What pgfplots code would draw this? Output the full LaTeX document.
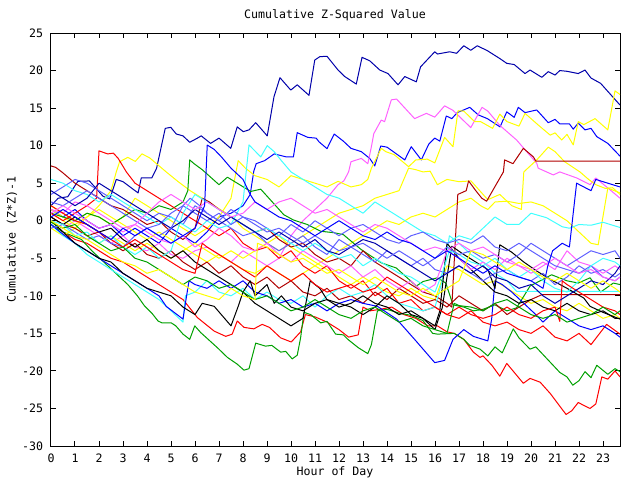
\documentclass[border=0pt]{standalone}
\usepackage{pgfplots}
\pgfplotsset{compat=1.18}
\usepackage{fontspec}
\setmainfont{DejaVu Sans Mono}
\definecolor{gred}{RGB}{255,0,0}
\definecolor{ggreen}{RGB}{0,160,0}
\definecolor{gblue}{RGB}{0,0,255}
\definecolor{gnavy}{RGB}{0,0,170}
\definecolor{gperi}{RGB}{96,96,255}
\definecolor{gpink}{RGB}{255,96,255}
\definecolor{gcyan}{RGB}{64,255,255}
\definecolor{gyellow}{RGB}{255,255,0}
\definecolor{gdred}{RGB}{176,0,0}
\begin{document}
\begin{tikzpicture}
\path[use as bounding box] (0pt,0pt) rectangle (480pt,360pt);
\begin{axis}[
  at={(38.25pt,25.5pt)}, anchor=south west,
  scale only axis, width=426.75pt, height=309.75pt,
  xmin=0, xmax=23.708, ymin=-30, ymax=25,
  xtick={0,...,23}, ytick={-30,-25,...,25},
  tick align=inside, major tick length=4pt,
  tick style={black, line width=0.75pt},
  axis line style={line width=0.75pt},
  tick label style={font=\fontsize{8.7}{10}\selectfont},
  /pgf/number format/assume math mode=true,
  xticklabel style={yshift=-2.5pt},
  yticklabel style={xshift=-2.4pt},
  no markers,
  every axis plot/.append style={line width=0.75pt, line join=round},
]
% red (traced, bottom)
\addplot[gred] coordinates {(0,0)(0.5,-1.5)(1,-2.5)(1.5,-3)(2,-4)(2.5,-5)(3,-5.5)(3.5,-6.5)(4,-7.5)(4.5,-8.5)(5,-9.5)(5.5,-10.5)(5.75,-11.5)(6.1,-12.9)(6.8,-14.7)(7.28,-15.4)(7.55,-15.1)(7.76,-13.35)(8.04,-14.2)(8.45,-14.4)(8.8,-13.8)(9.1,-14.2)(9.57,-15.6)(10.01,-16.15)(10.4,-14.8)(10.6,-12.5)(11,-12.8)(11.5,-13.5)(12,-14.5)(12.4,-15.5)(12.8,-15.2)(13.0,-11.5)(13.3,-12)(13.7,-11.8)(14.2,-11.5)(14.7,-12.5)(15.2,-13)(15.7,-14)(16.1,-14)(16.5,-14.8)(16.8,-15)(17.2,-15.8)(17.6,-17.5)(17.875,-18.2)(18.0,-18.0)(18.37,-19.25)(18.7,-20.7)(18.99,-19.0)(19.68,-21.65)(19.96,-21.0)(20.38,-21.5)(20.8,-23.0)(21.46,-25.8)(21.7,-25.3)(21.97,-24.2)(22.2,-24.6)(22.46,-25.0)(22.7,-24.4)(22.95,-20.8)(23.2,-21.1)(23.5,-20.0)(23.71,-20.8)};
% green (traced, bottom)
\addplot[ggreen] coordinates {(0,-0.5)(0.5,-1.5)(1.27,-2.5)(1.7,-4)(2.2,-5.5)(2.7,-7)(3.2,-8.5)(3.6,-10)(3.9,-11.36)(4.2,-12.3)(4.46,-13.35)(4.62,-13.6)(5.01,-13.6)(5.2,-14.0)(5.5,-15.1)(5.78,-15.8)(5.99,-14.0)(6.24,-14.9)(6.93,-16.9)(7.35,-18.2)(7.76,-19.1)(8.04,-19.9)(8.25,-19.7)(8.53,-16.3)(8.94,-16.7)(9.2,-16.6)(9.57,-17.5)(9.78,-17.4)(10.05,-18.4)(10.26,-17.9)(10.4,-15.6)(10.54,-12.2)(10.82,-12.5)(11.24,-13.6)(11.5,-13.4)(11.86,-15.1)(12.18,-15.2)(12.37,-15.8)(12.8,-16.9)(13.2,-17.7)(13.35,-16.5)(13.6,-12.0)(14.0,-11.8)(14.5,-12.3)(15.0,-12.6)(15.5,-13.3)(15.9,-15.0)(16.1,-15.1)(16.8,-15.0)(17.2,-15.8)(17.45,-16.6)(17.875,-17.1)(18.2,-18.0)(18.5,-16.8)(18.8,-17.6)(19.26,-14.4)(19.5,-15.6)(19.96,-17.1)(20.2,-16.8)(20.7,-18.5)(21.2,-20.2)(21.5,-20.8)(21.74,-21.9)(22.0,-21.3)(22.25,-20.1)(22.5,-20.9)(22.74,-19.25)(23.2,-20.45)(23.5,-19.7)(23.71,-20.1)};
% navy top
\addplot[gnavy] coordinates {(0,2)(0.3,3.0)(0.7,3.2)(1.12,5.25)(1.6,5.3)(2.17,3.25)(2.45,2.9)(2.72,5.5)(3.0,5.2)(3.63,3.7)(3.76,5.7)(4.2,5.7)(4.4,7.0)(4.76,12.3)(4.99,12.44)(5.22,11.55)(5.5,11.3)(5.78,10.45)(6.1,11.0)(6.26,11.3)(6.65,10.3)(7.0,11.0)(7.49,9.64)(7.76,12.5)(8.01,11.86)(8.25,12.1)(8.53,13.06)(9.01,11.3)(9.29,16.5)(9.54,19.05)(9.99,17.4)(10.26,18.1)(10.75,16.7)(10.99,21.4)(11.2,21.85)(11.5,21.9)(11.96,20.07)(12.24,19.2)(12.72,18.2)(12.96,21.76)(13.28,21.3)(13.7,20.07)(14.04,19.6)(14.46,18.1)(14.74,19.2)(15.22,18.5)(15.4,20.5)(15.99,22.5)(16.1,22.2)(16.61,22.5)(16.9,22.3)(17.2,23.3)(17.49,22.7)(17.76,23.3)(18.18,22.65)(18.7,21.6)(18.99,20.96)(19.3,20.8)(19.75,19.6)(19.96,20.07)(20.45,19.1)(20.72,19.85)(21.0,19.4)(21.2,20.0)(21.5,19.9)(21.97,19.6)(22.25,20.07)(22.5,19.0)(22.9,18.3)(23.71,15.4)};
% blue second
\addplot[gblue] coordinates {(0,1.5)(0.5,0.5)(1,1.5)(1.5,0)(2,-1)(2.5,-0.5)(3,-2)(3.5,-1)(4,-2)(4.5,-3)(5,-1)(5.5,-2)(6,-3)(6.5,-1.5)(7,0.5)(7.5,1)(8.0,2)(8.3,3.5)(8.45,6.6)(8.55,7.6)(8.9,8.0)(9.3,8.9)(9.8,8.5)(10.1,8.5)(10.26,11.73)(10.7,11.1)(11.05,11.0)(11.17,10.5)(11.5,9.6)(11.8,11.55)(12.18,10.6)(12.5,9.64)(12.93,9.2)(13.28,8.3)(13.49,7.3)(13.74,9.95)(14.0,9.8)(14.74,8.1)(15.01,9.86)(15.43,8.1)(15.74,10.2)(15.99,11.0)(16.2,10.6)(16.47,13.95)(16.7,13.6)(16.93,14.4)(17.45,15.1)(17.8,14.1)(18.18,13.6)(18.71,12.5)(18.99,14.5)(19.3,13.77)(19.47,15.1)(19.75,14.4)(20.24,14.75)(20.72,13.06)(21.0,13.5)(21.2,12.9)(21.6,12.9)(21.76,12.2)(21.97,13.0)(22.25,12.1)(22.5,12.3)(22.74,11.2)(23.2,10.3)(23.71,8.6)};
% pink top
\addplot[gpink] coordinates {(0,0)(0.5,-1)(1,0)(1.5,-1)(2,-2)(2.5,-3)(3,-2)(3.5,-3.5)(4,-4)(4.5,-3)(5,-4.5)(5.5,-5)(6,-4)(6.5,-3.5)(7,-4.5)(7.5,-5.5)(8,-4)(8.5,-5)(9,-6)(9.5,-5)(10,-2)(10.5,0)(11,1.5)(11.5,3)(11.96,4.8)(12.2,5.3)(12.4,6.5)(12.5,7.86)(12.93,8.3)(13.2,7.6)(13.35,9.86)(13.45,11.6)(13.76,13.4)(13.9,13.2)(14.18,16.1)(14.4,16.2)(15.15,13.6)(15.64,14.3)(15.99,13.8)(16.4,15.3)(16.75,14.7)(17.49,12.4)(17.96,15.1)(18.2,14.6)(18.7,12.7)(19.4,10.75)(20.24,7.65)(20.3,7.0)(20.93,6.1)(21.2,6.5)(21.9,5.7)(22.46,4.8)(22.7,5.7)(23.71,3.0)};
% yellow A
\addplot[gyellow] coordinates {(0,1)(0.5,0)(1,-1)(1.5,0.5)(2,2)(2.5,4)(2.72,6.5)(2.86,7.86)(3.2,8.44)(3.51,7.9)(3.79,8.9)(4.1,8.4)(4.8,6.5)(5.3,5.2)(5.8,4)(6.3,3)(6.8,2)(7.3,1)(7.7,0)(8,-1)(8.5,-2)(9,-3)(9.5,-2)(10,-3.5)(10.5,-4.5)(11,-5.5)(11.5,-6.5)(12,-7.5)(12.5,-8.5)(13,-7.5)(13.5,-8.5)(14,-9.5)(14.5,-10)(15,-9)(15.5,-10)(16,-10.5)(16.5,-6)(17,-6.5)(17.5,-7.5)(18,-8.5)(18.5,-8)(19,-9)(19.5,-10)(20,-11)(20.5,-10.5)(21,-11.5)(21.5,-12)(22,-11)(22.5,-12)(23,-13)(23.5,-12.5)(23.71,-13)};
% yellow B
\addplot[gyellow] coordinates {(0,2)(0.5,1)(1,0)(1.5,1)(2,0.5)(2.5,-0.5)(3,0.5)(3.5,3)(4,2)(4.5,1)(5,0)(5.5,-1)(6,-2)(6.5,-1)(7,0.5)(7.5,3)(7.8,8)(8.1,7)(8.5,6)(9,5.5)(9.5,4.5)(10,6)(10.5,5.5)(11,5)(11.5,4.5)(11.96,5.25)(12.5,4.5)(12.93,4.8)(13.2,5.5)(13.35,7.0)(13.76,9.64)(13.95,9.2)(14.3,8.8)(14.9,7.2)(15.2,8.1)(15.68,8.2)(15.99,7.7)(16.4,11.1)(16.75,9.86)(16.96,14.65)(17.2,14.6)(17.65,13.2)(17.9,13.2)(18.4,12.3)(18.7,14.2)(19.0,13.2)(19.5,12.6)(19.75,14.3)(20.3,12.75)(20.8,11.4)(21.0,11.7)(21.28,10.75)(21.5,11.5)(21.76,10.1)(21.97,13.2)(22.2,12.8)(22.67,13.6)(23.2,12.1)(23.5,17.3)(23.71,16.8)};
% yellow C
\addplot[gyellow] coordinates {(0,-1)(0.5,-2)(1,-1)(1.5,-2)(2,-3)(2.5,-2)(3,-3)(3.5,-4)(4,-3)(4.5,-4)(5,-5)(5.5,-4)(6,-3)(6.5,-4)(7,-5)(7.5,-4)(8,-5)(8.5,-4)(9,-3)(9.5,-4)(10,-3)(10.5,-2)(11,-1)(11.5,0)(12,1)(12.5,1.5)(13,2)(13.5,3)(14,3.5)(14.5,4)(14.9,7)(15.2,6.8)(15.5,6.5)(15.8,6.6)(16.1,4.8)(16.5,5.5)(17,5.2)(17.5,5.3)(18.2,2.8)(18.7,3.5)(19.2,2)(19.6,1.5)(19.7,6.5)(20.24,8.1)(20.72,9.8)(21.0,9.2)(21.4,7.86)(22.04,6.5)(22.4,5.5)(22.7,4.8)(23.1,4.3)(23.4,4.4)(23.71,3.5)};
% yellow D
\addplot[gyellow] coordinates {(0,1.5)(0.5,0.5)(1,-0.5)(1.5,0.5)(2,1.5)(2.5,0.5)(3,-0.5)(3.5,-1.5)(4,-2.5)(4.5,-1.5)(5,-2.5)(5.5,-3.5)(6,-4.5)(6.5,-5.5)(7,-4.5)(7.5,-5.5)(8,-6.5)(8.5,-7)(9,-6)(9.5,-7)(10,-8)(10.5,-7)(11,-6)(11.5,-5)(12,-4)(12.5,-3)(13,-2)(13.5,-1)(14,0)(14.5,-0.5)(15,0.5)(15.5,1)(16,0.5)(16.5,1.5)(17,2.5)(17.5,3)(17.9,2)(18.2,1.5)(18.5,2.5)(19,2.6)(19.5,2.3)(20,2.5)(20.5,2)(21,1)(21.5,0)(22,-1.5)(22.5,-3)(22.8,-3.2)(23.2,4.35)(23.71,3.7)};
% green C
\addplot[ggreen] coordinates {(0,1)(0.5,0.5)(1,0)(1.5,1)(2,0.5)(2.5,-0.5)(3,0.5)(3.5,1.5)(4,1)(4.5,2)(5,1.5)(5.5,2.5)(5.7,4)(5.78,8.1)(5.96,7.6)(6.3,6.8)(7.0,4.8)(7.35,5.8)(8.32,3.9)(8.74,4.2)(9.7,0.8)(10.1,0.1)(10.68,-0.5)(11.24,-1.4)(11.8,-1.6)(12.18,-1.85)(12.93,-3.85)(13.76,-5.6)(14.39,-6.3)(15.22,-8.7)(15.5,-8.1)(16.1,-7.6)(16.45,-8.3)(16.75,-11.2)(17.2,-11.5)(17.6,-12)(18.0,-11.8)(18.5,-11.2)(19.0,-12.0)(19.4,-11.6)(19.96,-8.7)(20.86,-7.2)(21.5,-8)(21.97,-8.3)(22.46,-7.6)(22.9,-9.5)(23.43,-8.3)(23.71,-8.5)};
% red D
\addplot[gred] coordinates {(0,1)(0.5,0)(1,1)(1.5,2)(1.9,3)(2.0,9.3)(2.36,8.9)(2.6,9.0)(2.8,8.3)(3.14,6.5)(3.5,5)(4,4)(4.5,3)(5,2)(5.5,1)(6,0)(6.5,-1)(7,-2)(7.5,-1)(8,-3)(8.5,-4)(9,-3.5)(9.5,-5)(10,-4)(10.5,-6)(11,-7)(11.5,-6)(12,-8)(12.5,-9)(13,-8)(13.5,-10)(14,-9)(14.5,-11)(15,-10.5)(15.5,-12)(16,-11.5)(16.5,-12.5)(17,-13)(17.5,-12)(18,-13.5)(18.5,-14)(19,-13.5)(19.5,-14.5)(20,-15)(20.5,-14)(21,-15.5)(21.5,-16)(22,-15)(22.5,-16.5)(23.15,-13.8)(23.71,-15.1)};
% dark red E
\addplot[gdred] coordinates {(0,7.3)(0.2,7.1)(0.45,6.5)(1,5)(1.5,4)(2,3)(2.5,2)(3,1.5)(3.5,0.5)(4,-0.5)(4.5,0)(5,-1.5)(5.5,-2.5)(6,-1)(6.3,3)(6.6,2.5)(7,1.5)(7.5,0.5)(8,-0.5)(8.5,-1.5)(9,-1)(9.5,-2.5)(10,-3.5)(10.5,-3)(11,-4.5)(11.5,-5.5)(12,-5)(12.5,-6)(13,-4)(13.5,-5.5)(14,-6.5)(14.5,-7.5)(15,-8.5)(15.5,-9.5)(16,-10)(16.5,-11)(16.7,-11.5)(16.95,3.5)(17.3,4.0)(17.4,5.3)(17.7,4)(17.95,3.0)(18.15,2.6)(18.4,4)(18.85,6.5)(18.9,8.1)(19.25,7.6)(19.68,9.64)(20.1,8.5)(20.2,7.95)(23.75,7.95)};
% dark red F
\addplot[gdred] coordinates {(0,0.5)(0.5,-0.5)(1,-1)(1.5,-2)(2,-1.5)(2.5,-3)(3,-4)(3.5,-3)(4,-4.5)(4.5,-5)(5,-4)(5.5,-5.5)(6,-6.5)(6.5,-5.5)(7,-7)(7.5,-6)(8,-7.5)(8.5,-8.5)(9,-7.5)(9.5,-9)(10,-8)(10.5,-9.5)(11,-10)(11.5,-9)(12,-10.5)(12.5,-10)(13,-11)(13.5,-9.5)(14,-10.5)(14.5,-9)(15,-10)(15.5,-11)(16,-10.5)(16.5,-11.5)(17,-10)(17.5,-11)(18,-12)(18.5,-11)(19,-12.5)(19.5,-11.5)(20,-10.5)(20.45,-9.85)(23.75,-9.85)};
% cyan G
\addplot[gcyan] coordinates {(0,-0.5)(0.5,-2)(1,-3)(1.5,-4.5)(2,-5.5)(2.5,-6.5)(3,-7.5)(3.5,-8.5)(4,-9.5)(4.5,-10.5)(4.8,-11.4)(5.5,-13.5)(5.6,-10)(6,-9.5)(6.5,-8)(7,-9.5)(7.5,-10)(8,-9)(8.5,-10.5)(9,-9.5)(9.5,-10.5)(10,-11)(10.5,-10)(11,-11.5)(11.5,-10)(12,-9)(12.5,-10)(13,-9.5)(13.5,-8.5)(14,-10)(14.5,-11)(15,-11.5)(15.5,-12)(16,-11.5)(16.3,-8)(16.6,-2)(17,-3)(17.5,-4.5)(18,-5.5)(18.5,-7)(19,-8)(19.4,-9.4)(23.75,-9.4)};
% blue H
\addplot[gblue] coordinates {(0,-0.5)(0.5,-1.8)(1,-3)(1.5,-4)(2,-5)(2.5,-6)(3,-7)(3.5,-8)(4,-9)(4.5,-10)(4.8,-11.4)(5.5,-13.1)(5.6,-11)(5.75,-8)(6,-8.5)(6.5,-9)(7,-8)(7.5,-9)(8,-8)(8.5,-9.5)(9,-10)(9.5,-11)(10,-10.5)(10.5,-11.5)(11,-11)(11.5,-12)(12,-11)(12.5,-10.5)(13,-11)(13.6,-11.4)(14.4,-13.1)(15.15,-15.8)(15.99,-18.9)(16.4,-18.6)(16.75,-15.8)(17.2,-14.5)(17.6,-15.4)(18.2,-16.0)(18.36,-13.1)(18.5,-8)(18.8,-8.5)(19.2,-9.5)(19.7,-11)(20.2,-12.5)(20.5,-13.5)(21,-12)(21.5,-13)(22,-14)(22.5,-14.5)(23,-14)(23.5,-15)(23.71,-15.5)};
% black 1
\addplot[black] coordinates {(0,0)(0.5,-1.5)(1,-3)(1.5,-4)(2,-5)(2.5,-5.5)(3,-7)(3.5,-8)(4,-9)(4.5,-9.5)(5,-10)(5.5,-11.5)(6,-12.5)(6.3,-11)(6.8,-11.4)(7.5,-14.0)(7.8,-11.4)(8,-9.5)(8.5,-11)(9,-12)(9.5,-13)(10,-14)(10.5,-13)(10.8,-8)(11.2,-9)(11.5,-10.5)(12,-11)(12.5,-11.5)(13,-12.5)(13.5,-11.5)(14,-10)(14.5,-11)(15,-12.5)(15.5,-13)(16,-14)(16.2,-12)(16.5,-3)(17,-5)(17.5,-6.5)(18,-8)(18.5,-9.5)(19,-10)(19.5,-11)(20,-10.5)(20.5,-11.5)(21,-12)(21.5,-11)(22,-12)(22.5,-12.5)(23,-12)(23.5,-13)(23.71,-13)};
% black 2
\addplot[black] coordinates {(0,0.5)(0.5,-0.5)(1,0.5)(1.5,-0.5)(2,-1.5)(2.5,-1)(3,-2.5)(3.5,-3.5)(4,-2.5)(4.5,-4)(5,-5)(5.5,-4)(6,-5.5)(6.5,-6.5)(7,-7.5)(7.5,-8.5)(8,-9.5)(8.3,-8)(8.5,-10)(9,-8.5)(9.3,-11)(9.6,-10)(10,-11.5)(10.5,-12)(11,-11)(11.5,-10.5)(12,-11.5)(12.5,-11)(13,-10)(13.5,-11)(14,-11.5)(14.5,-12.5)(15,-12)(15.5,-13)(16,-14.5)(16.3,-11.6)(16.7,-3.4)(17.2,-4.5)(17.7,-5.5)(18.2,-6.5)(18.5,-9)(18.7,-3.2)(19.2,-4.2)(19.7,-5.5)(20.24,-6.7)(20.8,-7.8)(21.5,-9)(22.2,-10.3)(22.46,-11.4)(23,-12.2)(23.71,-13.1)};
% peri I
\addplot[gperi] coordinates {(0,3.5)(0.5,4.5)(1,5.5)(1.5,5)(2,4)(2.5,3)(3,2)(3.5,1)(4,0)(4.5,1)(5,0.5)(5.5,-0.5)(6,2)(6.5,1)(7,0)(7.5,-1)(8,-2)(8.5,-1.5)(9,-3)(9.5,-4)(10,-3)(10.5,-2)(11,-3.5)(11.5,-4.5)(12,-2.5)(12.5,-3.5)(13,-4.5)(13.5,-5.5)(14,-4)(14.5,-5)(15,-6)(15.5,-5)(16,-6.5)(16.5,-7)(17,-6)(17.5,-7)(18,-8)(18.5,-7)(19,-6.5)(19.5,-7.5)(20,-8)(20.5,-7)(21,-8.5)(21.5,-7.5)(22,-6)(22.5,-7)(23,-6.5)(23.5,-7.5)(23.71,-7)};
% cyan J
\addplot[gcyan] coordinates {(0,5.5)(0.5,5)(1,4)(1.5,3.5)(2,2.5)(2.5,3.5)(3,2.5)(3.5,1.5)(4,0.5)(4.5,-0.5)(5,0.5)(5.5,-0.5)(6,-1.5)(6.5,0)(7,-1)(7.5,-0.5)(8,2.5)(8.25,10.1)(8.74,8.5)(9.01,10.0)(9.3,9.2)(9.6,8)(10,6.5)(10.5,5.5)(11,4.5)(11.5,3.5)(12,3)(12.5,2)(13,1)(13.5,2.5)(14,1.5)(14.5,0.5)(15,-0.5)(15.5,-1.5)(16,-2)(16.5,-3)(17,-2)(17.5,-2.5)(18,-1)(18.5,0.5)(19,-0.5)(19.5,-0.5)(20,1)(20.65,0.4)(21.3,-0.8)(21.6,-1)(22,-0.5)(22.5,-0.6)(23,-0.2)(23.4,-0.6)(23.71,-0.9)};
% pink K
\addplot[gpink] coordinates {(0,1.5)(0.5,1)(1,2.5)(1.5,2)(2,1)(2.5,0)(3,-1)(3.5,-0.5)(4,-1.5)(4.5,-2.5)(5,-3)(5.5,-2)(6,-3.5)(6.5,-2.5)(7,-1)(7.5,-2)(8,-3.5)(8.5,-4)(9,-3)(9.5,-4.5)(10,-5.5)(10.5,-4)(11,-5)(11.5,-6)(12,-7)(12.5,-6)(13,-7.5)(13.5,-6.5)(14,-8)(14.5,-9)(15,-8)(15.5,-9.5)(16,-8.5)(16.5,-4)(17,-5)(17.5,-6.5)(18,-5.5)(18.5,-6.5)(19,-5)(19.5,-6)(20,-6.5)(20.5,-5.5)(21,-6.5)(21.5,-4)(22,-5.5)(22.5,-6)(23,-7)(23.5,-6)(23.71,-6.5)};
% peri L
\addplot[gperi] coordinates {(0,-1)(0.5,-0.5)(1,-1.5)(1.5,-2.5)(2,-2)(2.5,-3)(3,-3.5)(3.5,-2)(4,-1)(4.5,-0.5)(5,1)(5.5,2)(6,1)(6.5,0)(7,1)(7.5,-0.5)(8,0.5)(8.5,0)(9,-1)(9.5,-2)(10,-0.5)(10.5,-1.5)(11,0)(11.5,-1)(12,-2)(12.5,-1)(13,-0.5)(13.5,-1.5)(14,-2.5)(14.5,-3)(15,-2)(15.5,-1.5)(16,-2.5)(16.5,-3)(17,-2.5)(17.5,-3)(18,-2)(18.5,-3.5)(19,-4)(19.5,-3)(20,-4)(20.5,-5)(21,-6)(21.5,-6.5)(22,-7)(22.5,-6)(23,-7.5)(23.5,-8)(23.71,-7.5)};
% cyan M
\addplot[gcyan] coordinates {(0,0)(0.5,-0.5)(1,-2)(1.5,-1.5)(2,-3)(2.5,-2)(3,-3.5)(3.5,-4.5)(4,-3.5)(4.5,-5)(5,-4)(5.5,1)(6,3.5)(6.5,2.5)(7,1.5)(7.5,0.5)(8,-0.5)(8.5,-1.5)(9,-1)(9.5,-2)(10,-3)(10.5,-4)(11,-3)(11.5,-4)(12,-5)(12.5,-4.5)(13,-6)(13.5,-5)(14,-6)(14.5,-7)(15,-7.5)(15.5,-8.5)(16,-9.5)(16.3,-7)(16.6,-4)(17,-4.5)(17.5,-5.5)(18,-6)(18.5,-5)(19,-6.5)(19.5,-7.5)(20,-6.5)(20.5,-8)(21,-9)(21.5,-9.5)(22,-8)(22.5,-6)(23,-5)(23.5,-5.5)(23.71,-6)};
% red N
\addplot[gred] coordinates {(0,2)(0.5,1)(1,0)(1.5,-0.5)(2,-1.5)(2.5,-2.5)(3,-3.5)(3.5,-2.5)(4,-3.5)(4.5,-4.5)(5,-5.5)(5.5,-6.5)(6,-7)(6.3,-3)(6.5,-3.5)(7,-4.5)(7.5,-5.5)(8,-6.5)(8.5,-7.5)(9,-6)(9.5,-7)(10,-8)(10.5,-7)(11,-8.5)(11.5,-9.5)(12,-9)(12.5,-8.5)(13,-9.5)(13.5,-9)(14,-7.5)(14.5,-8.5)(15,-9.5)(15.5,-10.5)(16,-11.5)(16.5,-12.5)(17,-11.5)(17.5,-12.5)(18,-13)(18.5,-12.5)(19,-11.5)(19.5,-12.5)(20,-13)(20.5,-12)(21,-11.5)(21.2,-13.4)(21.3,-8)(21.5,-8.5)(22,-9.5)(22.5,-10.5)(23,-11.5)(23.5,-12)(23.71,-12.5)};
% green O
\addplot[ggreen] coordinates {(0,-0.2)(0.5,-1)(1,-0.5)(1.5,-2)(2,-3)(2.5,-4)(3,-3.5)(3.5,-5)(4,-5.5)(4.5,-6.5)(5,-7.5)(5.5,-8.5)(6,-7.5)(6.5,-8)(7,-9)(7.5,-8.5)(8,-9.5)(8.5,-10.5)(9,-10)(9.5,-11)(10,-12)(10.5,-11.5)(11,-10.5)(11.5,-11.5)(12,-12.5)(12.5,-13)(13,-12)(13.5,-11.5)(14,-12.5)(14.5,-13.5)(15,-13)(15.5,-14)(16,-14.5)(16.5,-15)(16.8,-11)(17,-11.3)(17.5,-11.5)(18,-12)(18.5,-11)(19,-10.5)(19.5,-11.5)(20,-12.5)(20.5,-13)(21,-12.5)(21.5,-13.5)(22,-13)(22.5,-12.5)(23,-11.5)(23.5,-12.5)(23.71,-12)};
% navy Q
\addplot[gnavy] coordinates {(0,4)(0.5,3)(1,2)(1.5,3)(2,5)(2.5,4)(3,3)(3.5,2)(4,1)(4.5,0)(5,-1)(5.5,0)(6,1.5)(6.5,0.5)(7,-0.5)(7.5,0.5)(8,-0.5)(8.5,-1.5)(9,-2.5)(9.5,-1.5)(10,-2.5)(10.5,-3.5)(11,-2.5)(11.5,-4)(12,-4.5)(12.5,-3.5)(13,-2.5)(13.5,-3)(14,-4)(14.5,-5)(15,-6)(15.5,-7)(16,-8)(16.5,-7)(17,-6)(17.5,-7)(18,-6)(18.5,-7.5)(19,-8)(19.5,-9)(20,-8.5)(20.5,-10)(21,-11)(21.5,-10)(22,-9)(22.5,-8)(23,-8.5)(23.5,-7)(23.71,-6)};
% peri R
\addplot[gperi] coordinates {(0,2.5)(0.5,2)(1,3)(1.5,4)(2,3)(2.5,2)(3,1)(3.5,0)(4,-1)(4.5,-2)(5,-1)(5.5,2)(5.8,3)(6.2,2)(6.5,1)(7,0)(7.5,1.5)(8,0.5)(8.5,-0.5)(9,-1.5)(9.5,-1)(10,-2)(10.5,-3)(11,-2)(11.5,-3)(12,-4)(12.5,-3.5)(13,-3)(13.5,-4)(14,-5)(14.5,-4)(15,-5)(15.5,-6)(16,-5)(16.5,-3.5)(17,-4.5)(17.5,-4)(18,-5)(18.5,-4.5)(19,-5.5)(19.5,-4.5)(20,-3)(20.5,-4)(21,-5)(21.5,-6)(22,-5)(22.5,-4)(23,-4.5)(23.5,-4)(23.71,-5)};
% pink S
\addplot[gpink] coordinates {(0,1)(0.5,2)(1,1)(1.5,0)(2,-1)(2.5,-0.5)(3,-1.5)(3.5,-0.5)(4,1)(4.5,2.5)(5,3.5)(5.5,2.5)(6,1.5)(6.5,2.5)(7,1.5)(7.5,0.5)(8,1)(8.5,2.5)(9,1.5)(9.5,2.5)(10,3)(10.5,2)(11,1)(11.5,1.5)(12,0.5)(12.5,-0.5)(13,-1.5)(13.5,-0.5)(14,-1)(14.5,-2)(15,-3)(15.5,-4)(16,-3.5)(16.5,-4)(17,-3)(17.5,-4)(18,-3.5)(18.5,-4.5)(19,-5.5)(19.5,-6)(20,-7)(20.5,-6)(21,-5)(21.5,-6)(22,-7)(22.5,-6.5)(23,-7.5)(23.5,-8)(23.71,-7.5)};
% blue T
\addplot[gblue] coordinates {(0,0.5)(0.5,1.5)(1,0.5)(1.5,-0.5)(2,-1.5)(2.5,-2.5)(3,-1)(3.5,-2)(4,-1)(4.5,-2)(5,-3)(5.5,-2)(6.0,-1)(6.4,2)(6.51,10.08)(6.8,9.5)(7.1,8.5)(7.5,7)(8,5.5)(8.3,3.5)(8.5,2.5)(9,1.5)(9.5,0.5)(10,0)(10.5,-1)(11,-2)(11.5,-1)(12,0)(12.5,-1)(13,-2)(13.5,-2.5)(14,-1.5)(14.5,-2.5)(15,-3)(15.5,-4)(16,-5)(16.5,-4)(17,-5)(17.5,-6)(18,-7)(18.5,-6)(19,-7)(19.5,-7.5)(20,-8)(20.5,-9)(20.7,-6)(20.9,-4)(21.3,-3)(21.6,-3.5)(21.9,5)(22.2,4.5)(22.5,4)(22.7,5.5)(23.2,5)(23.71,4.5)};
% yellow U
\addplot[gyellow] coordinates {(0,0)(0.5,-1)(1,-2)(1.5,-2.5)(2,-3.5)(2.5,-4.5)(3,-5.5)(3.5,-6)(4,-7)(4.5,-6.5)(5,-7.5)(5.5,-8.5)(6,-9.5)(6.5,-10)(7,-10.5)(7.5,-9)(8,-10)(8.5,-10.5)(8.6,-3)(9,-3.5)(9.5,-4.5)(10,-5.5)(10.5,-5)(11,-6)(11.5,-7)(12,-6.5)(12.5,-7.5)(13,-8.5)(13.5,-7.5)(14,-8.5)(14.5,-9.5)(15,-10)(15.5,-9)(16,-10)(16.5,-9)(17,-8)(17.5,-4)(18,-4.5)(18.5,-5.5)(19,-6.5)(19.5,-5.5)(20,-6.5)(20.5,-7.5)(21,-8)(21.5,-7)(22,-8)(22.5,-9)(23,-8)(23.5,-9)(23.71,-9.5)};
\end{axis}
\node[font=\fontsize{8.7}{10}\selectfont] at (251.25pt,348.75pt) {Cumulative Z-Squared Value};
\node[font=\fontsize{8.7}{10}\selectfont] at (251.25pt,6pt) {Hour of Day};
\node[font=\fontsize{8.7}{10}\selectfont, rotate=90] at (9pt,180.4pt) {Cumulative (Z*Z)-1};
\end{tikzpicture}
\end{document}
